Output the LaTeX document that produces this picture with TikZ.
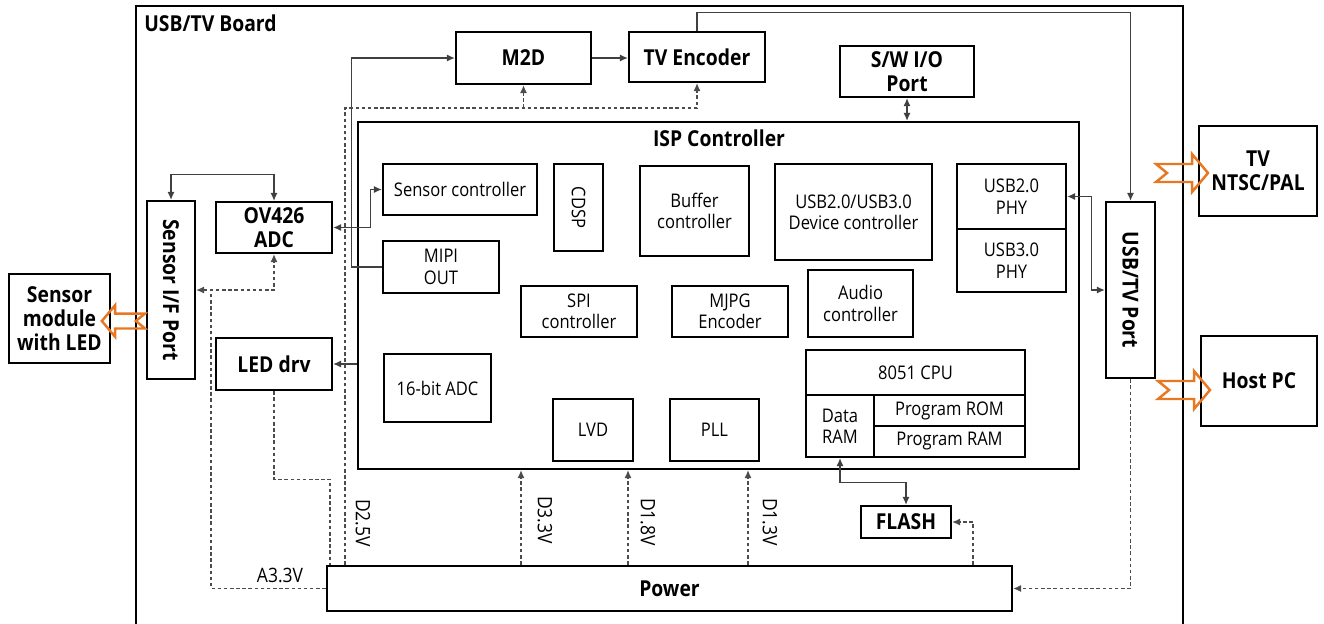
\documentclass[tikz,border=0pt]{standalone}
\usepackage{fontspec}
\setmainfont{Open Sans}[FakeStretch=0.88]
\usepackage{graphicx}
\usetikzlibrary{arrows.meta}

\definecolor{arrowOrange}{RGB}{232,119,34}
\newcommand{\vtext}[1]{\rotatebox[origin=c]{-90}{#1}}

\tikzset{
  bold/.style={font=\fontsize{12.5}{13.6}\selectfont\bfseries},
  plain/.style={font=\fontsize{10.7}{12.2}\selectfont},
  volt/.style={font=\fontsize{11.3}{13}\selectfont},
  cornerbox/.style n args={4}{at={({(#1+#3)/2},{(#2+#4)/2})},
    minimum width={(#3-#1)*0.02cm}, minimum height={(#4-#2)*0.02cm}},
  sig/.style={draw=black!75, line width=0.6pt},
  pwr/.style={draw=black!70, line width=0.6pt, dash pattern=on 2pt off 1.5pt},
  pics/fatarrow/.style={code={
    \draw[line width=1.4pt, draw=arrowOrange, line join=miter]
      (0,-9) -- (36,-9) -- (36,-19) -- (52,0) -- (36,19) -- (36,9) -- (0,9) -- (11,0) -- cycle;
  }}
}

\begin{document}
\begin{tikzpicture}[x=0.02cm, y=-0.02cm]
  \useasboundingbox (0,0) rectangle (1324,623);
  % board frame
  \draw[line width=1.5pt] (136,640) -- (136,6) -- (1183,6) -- (1183,640);
  \node[bold, anchor=west, inner sep=0pt] (board) at (144,23) {USB/TV Board};

  \begin{scope}[every node/.style={draw, line width=1.4pt, inner sep=0pt, align=center}]
    % outside the board
    \node (senmod) [bold, cornerbox={9}{274}{110}{363}] {Sensor\\module\\with LED};
    \node (tv) [bold, cornerbox={1199}{126}{1317}{216}] {TV\\NTSC/PAL};
    \node (host) [bold, cornerbox={1201}{336}{1317}{426}] {Host PC};
    % board parts
    \node (sif) [bold, cornerbox={147}{201}{195}{379}] {\vtext{Sensor I/F Port}};
    \node (ov426) [bold, cornerbox={216}{202}{332}{253}] {OV426\\ADC};
    \node (led) [bold, cornerbox={216}{338}{332}{390}] {LED drv};
    \node (m2d) [bold, cornerbox={456}{32}{591}{84}] {M2D};
    \node (tvenc) [bold, cornerbox={629}{32}{765}{82}] {TV Encoder};
    \node (swio) [bold, cornerbox={840}{46}{974}{97}] {S/W I/O\\Port};
    \node (usbport) [bold, cornerbox={1106}{202}{1155}{378}] {\vtext{USB/TV Port}};
    \node (flash) [bold, cornerbox={861}{506}{951}{538}] {FLASH};
    \node (power) [bold, cornerbox={327}{566}{1012}{611}] {Power};
    % ISP controller
    \node (isp) [cornerbox={358}{122}{1079}{469}] {};
    \node (senctl) [plain, cornerbox={383}{164}{537}{215}] {Sensor controller};
    \node (mipi) [plain, cornerbox={383}{241}{499}{293}] {MIPI\\OUT};
    \node (cdsp) [plain, cornerbox={554}{164}{603}{251}] {\vtext{CDSP}};
    \node (buf) [plain, cornerbox={640}{166}{749}{256}] {Buffer\\controller};
    \node (usbdev) [plain, cornerbox={775}{164}{932}{260}] {USB2.0/USB3.0\\Device controller};
    \node (phy2) [plain, cornerbox={957}{164}{1066}{229}] {USB2.0\\PHY};
    \node (phy3) [plain, cornerbox={957}{229}{1066}{292}] {USB3.0\\PHY};
    \node (spi) [plain, cornerbox={521}{286}{637}{337}] {SPI\\controller};
    \node (mjpg) [plain, cornerbox={672}{286}{788}{337}] {MJPG\\Encoder};
    \node (audio) [plain, cornerbox={808}{270}{913}{337}] {Audio\\controller};
    \node (adc16) [plain, cornerbox={384}{354}{491}{422}] {16-bit ADC};
    \node (lvd) [plain, cornerbox={553}{399}{633}{461}] {LVD};
    \node (pll) [plain, cornerbox={670}{399}{759}{461}] {PLL};
    \node (cpu) [plain, cornerbox={806}{350}{1025}{395}] {8051 CPU};
    \node (dram) [plain, cornerbox={806}{395}{874}{457}] {Data\\RAM};
    \node (prom) [plain, cornerbox={874}{395}{1025}{426}] {Program ROM};
    \node (pram) [plain, cornerbox={874}{426}{1025}{457}] {Program RAM};
  \end{scope}
  \node[bold] (isptitle) at (719,138) {ISP Controller};

  % voltage labels
  \node[volt] (d25) at (363,523) {\vtext{D2.5V}};
  \node[volt] (d33) at (545,520) {\vtext{D3.3V}};
  \node[volt] (d18) at (648,522) {\vtext{D1.8V}};
  \node[volt] (d13) at (770,522) {\vtext{D1.3V}};
  \node[volt] (a33) at (280,575) {A3.3V};

  \begin{scope}[>={Latex[length=4.5pt, width=4pt]}]
    % signal lines
    \draw[sig, <->] (sif.north) -- ++(0,-25) -| (ov426.north);
    \draw[sig, <->] (ov426.east) -- ++(37,0) |- (senctl.west);
    \draw[sig, ->] (mipi.west) -- ++(-30,0) |- (m2d.west);
    \draw[sig, ->] (m2d.east) -- (m2d.east -| tvenc.west);
    \draw[sig, ->] (tvenc.north) -- ++(0,-18) -| (usbport.north);
    \draw[sig, <->] (swio.south) -- (swio.south |- isp.north);
    \draw[sig, <->] (phy2.east) -- ++(24,0) |- (usbport.west);
    \draw[sig, <->] (dram.south) -- ++(0,24) -| (flash.north);
    \draw[sig, ->] (isp.west |- led.east) -- (led.east);
    % supply lines
    \draw[pwr, ->] (521,0 |- power.north) -- (521,0 |- isp.south);
    \draw[pwr, ->] (628,0 |- power.north) -- (628,0 |- isp.south);
    \draw[pwr, ->] (748,0 |- power.north) -- (748,0 |- isp.south);
    \draw[pwr, ->] (345,0 |- power.north) |- (tvenc.south |- 0,108) -- (tvenc.south);
    \draw[pwr, ->] (m2d.south |- 0,108) -- (m2d.south);
    \draw[pwr] (power.west) -| (211,290);
    \draw[pwr, <->] (sif.east) -| (ov426.south);
    \draw[pwr] (led.south) -- ++(0,88) -| (330,0 |- power.north);
    \draw[pwr, ->] (973,0 |- power.north) |- (flash.east);
    \draw[pwr, ->] (usbport.south) |- (power.east);
  \end{scope}

  % external links
  \pic at (1156,173) {fatarrow};
  \pic at (1158,390) {fatarrow};
  \pic[xscale=-0.83, yscale=0.83] at (145,321) {fatarrow};
\end{tikzpicture}
\end{document}
